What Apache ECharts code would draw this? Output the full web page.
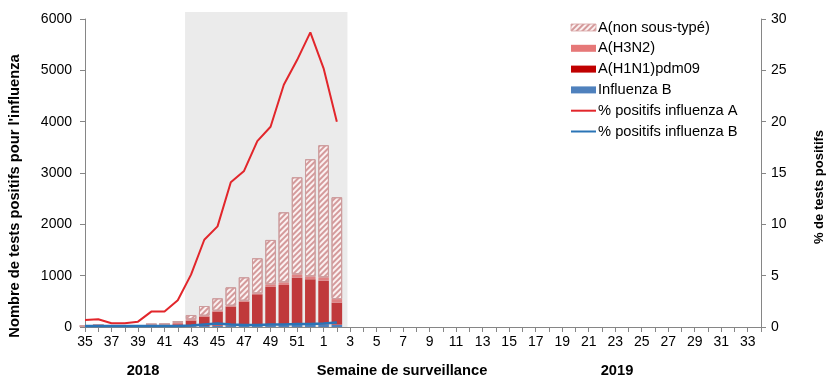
<!DOCTYPE html>
<html>
<head>
<meta charset="utf-8">
<script src="https://cdn.jsdelivr.net/npm/echarts@6/dist/echarts.min.js"></script>
<style>html,body{margin:0;padding:0;background:#fff}#c{width:840px;height:390px}</style>
</head>
<body>
<div id="c"></div>
<script>
// Weeks of surveillance (2018 w35 -> 2019 w34)
const weeks = ['35','36','37','38','39','40','41','42','43','44','45','46','47','48','49','50','51','52',
  '1','2','3','4','5','6','7','8','9','10','11','12','13','14','15','16','17','18','19','20','21','22','23','24','25','26','27','28','29','30','31','32','33','34'];

// Counts of positive tests (left axis)
const influenzaB   = [10, 15, 10, 10, 10, 10, 10, 10, 15, 20, 25, 30, 25, 25, 30, 35, 40, 45, 50, 45];
const h1n1         = [0, 0, 0, 0, 0, 5, 8, 45, 108, 181, 274, 366, 469, 612, 756, 784, 921, 885, 853, 429];
const h3n2         = [10, 25, 5, 5, 5, 40, 40, 25, 27, 19, 19, 19, 19, 19, 46, 52, 66, 58, 66, 70];
const nonSubtyped  = [0, 0, 0, 0, 0, 0, 0, 37, 84, 189, 241, 358, 455, 683, 864, 1364, 1890, 2280, 2572, 1984];

// Percent positive (right axis)
const pctA = [0.68, 0.75, 0.36, 0.36, 0.52, 1.5, 1.5, 2.6, 5.1, 8.5, 9.8, 14.1, 15.2, 18.1, 19.5, 23.6, 26.0, 28.7, 25.2, 20.0];
const pctB = [0.1, 0.1, 0.1, 0.1, 0.1, 0.1, 0.1, 0.1, 0.15, 0.25, 0.35, 0.25, 0.2, 0.2, 0.25, 0.25, 0.3, 0.3, 0.35, 0.45];

// Shaded period (in category-index units) and its upper bound on the count axis
const shadedPeriod = [[7.55, 19.8]];
const shadeTopValue = 6136;

const leftTicks = { min: 0, max: 6000, interval: 1000 };
const rightTicks = { min: 0, max: 30, interval: 5 };

const FONT = 'Liberation Sans, Arial, sans-serif';
const axisGray = '#868686';

const chart = echarts.init(document.getElementById('c'), null, { renderer: 'canvas' });

const hatchDecal = {
  symbol: 'rect', symbolSize: 1,
  color: '#d49a9b',
  dashArrayX: [1, 0],
  dashArrayY: [2, 2],
  rotation: -Math.PI / 4
};

chart.setOption({
  animation: false,
  textStyle: { fontFamily: FONT },
  grid: { left: 85, right: 79, top: 19, bottom: 63, containLabel: false },
  legend: {
    data: [
      { name: 'A(non sous-typé)', icon: 'rect', itemStyle: { borderColor: '#d9aaab', borderWidth: 0.5 } },
      { name: 'A(H3N2)', icon: 'rect', itemStyle: { color: '#e67878', borderWidth: 0 } },
      { name: 'A(H1N1)pdm09', icon: 'rect', itemStyle: { color: '#c00000', borderWidth: 0 } },
      { name: 'Influenza B', icon: 'rect', itemStyle: { color: '#4f81bd', borderWidth: 0 } },
      { name: '% positifs influenza A', itemStyle: { opacity: 0 } },
      { name: '% positifs influenza B', itemStyle: { opacity: 0 } }
    ],
    orient: 'vertical', left: 565, top: 15,
    itemWidth: 25, itemHeight: 7, itemGap: 5.8,
    textStyle: { fontSize: 14.7, color: '#000', fontFamily: FONT, padding: [0, 0, 0, -3] },
    selectedMode: false
  },
  xAxis: [{
    type: 'category', data: weeks, boundaryGap: false,
    axisLine: { lineStyle: { color: axisGray, width: 1 } },
    axisTick: { interval: 0, length: 5, lineStyle: { color: axisGray } },
    axisLabel: { interval: 1, margin: 8, fontSize: 14, color: '#000', fontFamily: FONT },
    splitLine: { show: false }
  }, {
    type: 'value', min: 0, max: weeks.length - 1, show: false
  }],
  yAxis: [{
    type: 'value', min: leftTicks.min, max: leftTicks.max, interval: leftTicks.interval,
    axisLine: { show: true, lineStyle: { color: axisGray } },
    axisTick: { show: true, length: 5, lineStyle: { color: axisGray } },
    axisLabel: { margin: 13, fontSize: 14, color: '#000', fontFamily: FONT, formatter: function (v) { return String(v); } },
    splitLine: { show: false }
  }, {
    type: 'value', min: rightTicks.min, max: rightTicks.max, interval: rightTicks.interval, position: 'right',
    axisLine: { show: true, lineStyle: { color: axisGray } },
    axisTick: { show: true, length: 5, lineStyle: { color: axisGray } },
    axisLabel: { margin: 10, fontSize: 14, color: '#000', fontFamily: FONT },
    splitLine: { show: false }
  }],
  series: [
    {
      type: 'custom', name: 'shade', xAxisIndex: 1, yAxisIndex: 0, silent: true, z: 0,
      data: shadedPeriod,
      renderItem: function (params, api) {
        const p0 = api.coord([api.value(0), 0]);
        const p1 = api.coord([api.value(1), shadeTopValue]);
        return { type: 'rect', shape: { x: p0[0], y: p1[1], width: p1[0] - p0[0], height: p0[1] - p1[1] }, style: { fill: '#ebebeb' } };
      }
    },
    { name: 'Influenza B', type: 'bar', stack: 'a', data: influenzaB, barWidth: '80%', itemStyle: { color: '#4f81bd' } },
    { name: 'A(H1N1)pdm09', type: 'bar', stack: 'a', data: h1n1, barWidth: '80%', itemStyle: { color: '#c0393b' } },
    { name: 'A(H3N2)', type: 'bar', stack: 'a', data: h3n2, barWidth: '80%', itemStyle: { color: '#df8283' } },
    { name: 'A(non sous-typé)', type: 'bar', stack: 'a', data: nonSubtyped, barWidth: '80%',
      itemStyle: { color: '#fbf1f1', borderColor: '#cc9c9d', borderWidth: 1, decal: hatchDecal } },
    { name: '% positifs influenza A', type: 'line', yAxisIndex: 1, data: pctA, symbol: 'none', z: 5,
      lineStyle: { color: '#e2262b', width: 2 }, itemStyle: { color: '#e2262b' } },
    { name: '% positifs influenza B', type: 'line', yAxisIndex: 1, data: pctB, symbol: 'none', z: 5,
      lineStyle: { color: '#2a74b6', width: 2.5 }, itemStyle: { color: '#2a74b6' } }
  ],
  graphic: [
    { type: 'text', x: 15, y: 196, rotation: Math.PI / 2,
      style: { text: "Nombre de tests positifs pour l'influenza", font: 'bold 14.7px ' + FONT, fill: '#000', textAlign: 'center', textVerticalAlign: 'middle' } },
    { type: 'text', x: 819, y: 187, rotation: Math.PI / 2,
      style: { text: '% de tests positifs', font: 'bold 13px ' + FONT, fill: '#000', textAlign: 'center', textVerticalAlign: 'middle' } },
    { type: 'text', x: 143, y: 371,
      style: { text: '2018', font: 'bold 14.7px ' + FONT, fill: '#000', textAlign: 'center', textVerticalAlign: 'middle' } },
    { type: 'text', x: 402, y: 371,
      style: { text: 'Semaine de surveillance', font: 'bold 14.7px ' + FONT, fill: '#000', textAlign: 'center', textVerticalAlign: 'middle' } },
    { type: 'text', x: 617, y: 371,
      style: { text: '2019', font: 'bold 14.7px ' + FONT, fill: '#000', textAlign: 'center', textVerticalAlign: 'middle' } }
  ]
});
</script>
</body>
</html>
